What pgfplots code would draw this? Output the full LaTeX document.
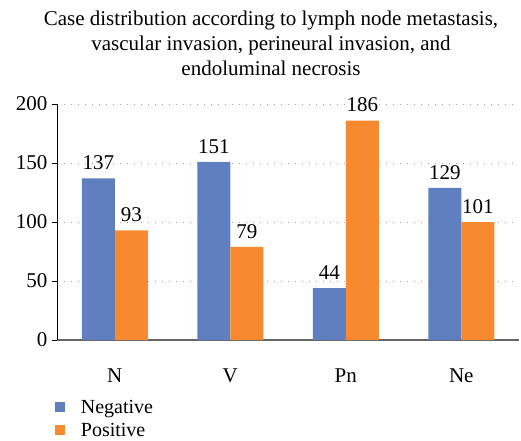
\documentclass[border=0pt]{standalone}
\usepackage{pgfplots}
\pgfplotsset{compat=1.18}
\usepackage{fontspec}
\setmainfont{Liberation Serif}
\definecolor{negblue}{RGB}{96,127,192}
\definecolor{posorange}{RGB}{247,138,47}
\begin{document}
\begin{tikzpicture}[x=1pt,y=1pt]
\useasboundingbox (0,0) rectangle (521,440);
\begin{axis}[
  at={(57pt,100pt)}, anchor=south west,
  scale only axis, width=462pt, height=236pt,
  xmin=-0.5, xmax=3.5, ymin=0, ymax=200,
  ybar=0pt, bar width=33pt,
  xtick=data, xticklabels={N,V,Pn,Ne},
  xtick style={draw=none},
  ytick={0,50,100,150,200},
  ymajorgrids, grid style={gray!70, line width=0.9pt, dash pattern=on 1pt off 6pt},
  axis x line*=bottom, axis y line*=left,
  x axis line style={draw=gray!80!black, line width=1.2pt, -},
  y axis line style={draw=black, line width=0.9pt, -},
  ytick style={draw=black, line width=0.8pt},
  major tick length=5pt,
  tick align=outside,
  /pgf/number format/assume math mode=true,
  tick label style={font=\fontsize{21}{23}\selectfont},
  yticklabel style={xshift=-1pt},
  xticklabel style={yshift=-20pt},
  nodes near coords,
  point meta=explicit symbolic,
  nodes near coords style={font=\fontsize{21}{23}\selectfont, yshift=5pt},
  legend style={at={(-0.005,-0.245)}, anchor=north west, draw=none, fill=none,
    font=\fontsize{20}{22}\selectfont, row sep=4pt, inner sep=0pt},
  legend cell align=left,
  legend image code/.code={\fill[#1] (0pt,-5pt) rectangle (10pt,5pt);},
  clip=false,
]
\addplot[fill=negblue, draw=none] coordinates {(0,137)[137] (1,151)[151] (2,44)[44] (3,129)[129]};
\addplot[fill=posorange, draw=none] coordinates {(0,93)[93] (1,79)[79] (2,186)[186] (3,100)[101]};
\legend{\hspace{14pt}Negative,\hspace{14pt}Positive}
\end{axis}
\node[align=center, font=\fontsize{21}{25}\selectfont, anchor=north] at (271,433)
  {Case distribution according to lymph node metastasis,\\vascular invasion, perineural invasion, and\\endoluminal necrosis};
\end{tikzpicture}
\end{document}
